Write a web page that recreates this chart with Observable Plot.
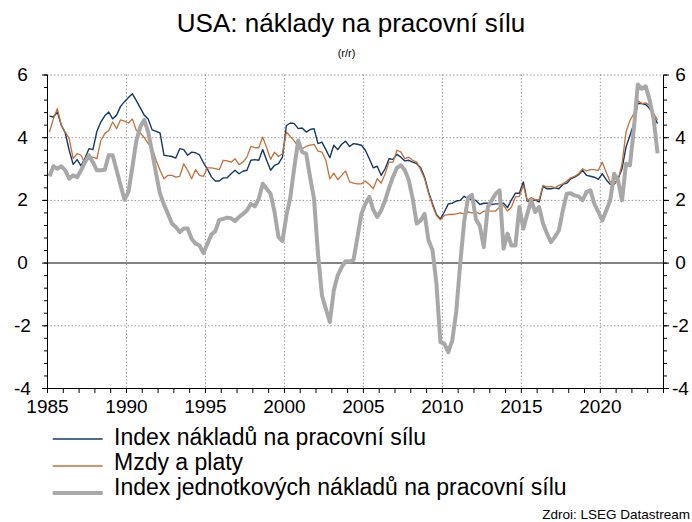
<!DOCTYPE html>
<html><head><meta charset="utf-8">
<script src="https://cdn.jsdelivr.net/npm/d3@7"></script>
<script src="https://cdn.jsdelivr.net/npm/@observablehq/plot@0.6"></script>
<style>
body{margin:0;background:#fff;font-family:"Liberation Sans",Arial,sans-serif;}
#wrap{position:relative;width:692px;height:522px;overflow:hidden;background:#fff;color:#000}
.abs{position:absolute;white-space:nowrap}
</style></head><body><div id="wrap"></div>
<script>
// Quarterly data, first observation 1985 Q1
const firstYear = 1985;
const titleText = "USA: náklady na pracovní sílu";
const subtitleText = "(r/r)";
const sourceText = "Zdroi: LSEG Datastream";
const seriesNames = ["Index nákladů na pracovní sílu", "Mzdy a platy", "Index jednotkových nákladů na pracovní sílu"];
const seriesColors = ["#12386a", "#c4703a", "#a8a8a8"];
const seriesWidths = [1.4, 1.3, 4];

const eci = [4.69,4.66,4.82,4.4,4.15,3.6,3.15,3.3,3.1,3.35,3.65,3.62,4.2,4.5,4.7,4.82,4.6,4.72,5.0,5.15,5.28,5.4,5.18,4.95,4.72,4.6,4.25,4.2,4.15,3.44,3.42,3.4,3.35,3.65,3.62,3.44,3.54,3.52,3.45,3.2,3.0,2.75,2.62,2.62,2.72,2.72,
 2.85,2.96,2.85,2.93,2.96,3.28,3.3,3.28,3.62,3.28,2.96,3.12,3.17,3.38,4.39,4.47,4.45,4.29,4.31,4.18,4.26,4.29,3.81,3.86,3.62,3.36,3.76,3.62,3.79,3.89,3.72,3.81,3.79,3.76,3.6,3.33,3.04,3.09,2.8,3.01,3.33,3.31,3.47,3.38,3.26,3.28,3.22,3.17,3.04,2.74,2.27,1.89,1.55,1.41,1.63,1.89,1.91,1.98,2.0,2.13,2.06,2.02,2.0,1.87,
 1.91,1.91,1.87,1.89,1.89,1.91,1.77,2.02,2.23,2.23,2.59,1.98,1.98,2.02,1.95,2.45,2.37,2.37,2.4,2.37,2.51,2.55,2.69,2.74,2.82,2.96,2.8,2.77,2.74,2.67,2.85,2.66,2.51,2.51,2.69,3.01,3.7,4.07,4.45,5.1,5.09,5.06,4.93,4.71,4.45];
const wages = [4.18,4.6,4.93,4.39,4.18,3.97,3.33,3.49,3.44,3.17,3.38,3.38,3.33,3.91,4.13,4.23,4.5,4.29,4.57,4.53,4.47,4.6,4.23,4.15,4.0,3.81,3.68,3.28,2.96,2.69,2.8,2.8,2.74,2.77,3.17,2.96,2.69,2.98,2.8,2.77,3.04,3.04,3.01,2.98,3.28,3.26,
 3.22,3.33,3.14,3.22,3.38,3.72,3.68,3.68,4.02,3.68,3.31,3.54,3.4,3.49,4.18,4.04,3.89,3.72,3.65,3.72,3.76,3.79,3.57,3.54,3.28,2.69,2.87,2.66,2.8,2.94,2.59,2.55,2.53,2.53,2.62,2.51,2.37,2.69,2.55,2.85,3.22,3.22,3.6,3.54,3.33,3.38,3.28,3.22,2.98,2.69,2.23,1.84,1.52,1.38,1.52,1.55,1.55,1.57,1.6,1.57,1.63,1.6,1.63,1.57,
 1.66,1.66,1.66,1.66,1.79,1.84,1.66,1.79,2.11,2.13,2.48,2.0,2.09,2.02,2.02,2.48,2.43,2.45,2.4,2.48,2.53,2.62,2.72,2.77,2.85,3.01,2.94,2.98,2.98,2.96,3.22,2.9,2.59,2.53,2.64,3.17,4.18,4.55,4.77,5.19,5.09,5.11,5.03,4.77,4.57];
const ulc = [2.77,3.09,3.01,3.09,2.96,2.69,2.8,2.74,2.96,3.22,3.44,3.22,2.96,2.96,2.98,3.44,3.44,2.96,2.48,2.02,2.27,3.06,3.91,4.34,4.57,4.18,3.54,2.85,2.21,1.87,1.57,1.26,1.15,0.99,1.1,1.1,0.78,0.62,0.56,0.32,0.62,0.91,1.02,1.38,1.41,1.45,1.43,1.34,1.47,1.57,1.68,1.89,
 1.81,2.05,2.53,2.37,2.21,1.63,0.83,0.7,1.52,2.1,3.06,3.91,3.54,3.49,2.74,2.05,0.3,-1.03,-1.46,-1.88,-0.87,-0.39,-0.13,0.06,0.05,0.1,0.83,1.57,1.89,2.11,1.7,1.47,1.68,2.0,2.4,2.75,3.04,3.12,2.96,2.64,2.05,1.26,1.36,1.57,0.72,0.42,-0.66,-2.52,-2.57,-2.84,-2.47,-1.56,-0.05,1.3,2.08,2.18,1.4,1.18,
 0.51,1.79,2.0,2.21,2.32,0.46,0.94,0.56,0.56,1.79,1.1,1.57,2.0,1.63,1.79,1.26,0.94,0.67,0.83,1.04,1.68,2.21,2.23,2.16,2.13,2.0,2.27,2.32,1.89,1.63,1.36,1.68,2.0,2.85,2.64,2.0,3.17,3.12,4.29,5.7,5.56,5.64,5.2,4.6,3.5];

const xDomain = [1985, 2024];
const yDomain = [-4, 6];
const labelYears = [1985, 1990, 1995, 2000, 2005, 2010, 2015, 2020];
const gridYears = [1990, 1995, 2000, 2005, 2010, 2015, 2020];
const yearTicks = d3.range(1985, 2025);
const yMajor = [-4, -2, 0, 2, 4, 6];
const yGrid = [-2, 2, 4, 6];
const yMinor = d3.range(0, 26).map(i => +(-4 + i * 0.4).toFixed(1));

const seriesValues = [eci, wages, ulc];
// mid-quarter position in decimal years
const toTime = i => firstYear + 0.125 + 0.25 * i;
const rows = seriesValues.map((vals, s) => vals.map((v, i) => ({t: toTime(i), v, s})));

const wrap = document.getElementById("wrap");
function addDiv(text, css) {
  const d = document.createElement("div");
  d.className = "abs";
  d.textContent = text;
  Object.assign(d.style, css);
  wrap.appendChild(d);
  return d;
}
addDiv(titleText, {left: "0px", width: "702px", textAlign: "center", top: "9.5px", fontSize: "26px", lineHeight: "26px"});
addDiv(subtitleText, {left: "0px", width: "693px", textAlign: "center", top: "48px", fontSize: "11px", lineHeight: "11px"});

const grid = {stroke: "#9a9a9a", strokeOpacity: 1, strokeWidth: 1, strokeDasharray: "1.5,2"};
const chart = Plot.plot({
  width: 692,
  height: 358,
  marginLeft: 47,
  marginRight: 29,
  marginTop: 12.5,
  marginBottom: 32,
  x: {domain: xDomain, label: null},
  y: {domain: yDomain, label: null},
  style: {fontFamily: "'Liberation Sans', Arial, sans-serif", fontSize: "19px", color: "#000", background: "transparent", overflow: "visible"},
  marks: [
    Plot.gridX(gridYears, grid),
    Plot.gridY(yGrid, grid),
    Plot.ruleY([0], {stroke: "#5a5a5a", strokeWidth: 1.5}),
    ...rows.map((r, s) => Plot.line(r, {x: "t", y: "v", stroke: seriesColors[s], strokeWidth: seriesWidths[s], strokeLinejoin: "round", strokeLinecap: "butt"})),
    Plot.ruleY([yDomain[0]], {stroke: "#000", strokeWidth: 1}),
    Plot.ruleX([xDomain[0], xDomain[1]], {y1: yDomain[0], y2: yDomain[1], stroke: "#000", strokeWidth: 1}),
    Plot.axisX(yearTicks, {anchor: "bottom", label: null, tickSize: 5, tickFormat: () => "", stroke: "#000"}),
    Plot.axisX(labelYears, {anchor: "bottom", label: null, tickSize: 0, tickPadding: 11, tickFormat: d => String(d), fill: "#000"}),
    Plot.axisY(yMinor, {anchor: "left", label: null, tickSize: 3, tickFormat: () => "", stroke: "#000"}),
    Plot.axisY(yMajor, {anchor: "left", label: null, tickSize: 5, tickPadding: 20, textAnchor: "middle", tickFormat: d => String(d), fill: "#000", stroke: "#000"}),
    Plot.axisY(yMinor, {anchor: "right", label: null, tickSize: 3, tickFormat: () => "", stroke: "#000"}),
    Plot.axisY(yMajor, {anchor: "right", label: null, tickSize: 5, tickPadding: 12, textAnchor: "middle", tickFormat: d => String(d), fill: "#000", stroke: "#000"})
  ]
});
const holder = document.createElement("div");
holder.className = "abs";
holder.style.left = "0px";
holder.style.top = "62px";
holder.appendChild(chart);
wrap.appendChild(holder);

// legend
const legendTops = [425.6, 450.6, 476.3];
const swatchY = [439.3, 466, 493];
seriesNames.forEach((name, i) => {
  const ns = "http://www.w3.org/2000/svg";
  const sv = document.createElementNS(ns, "svg");
  sv.setAttribute("width", "52");
  sv.setAttribute("height", "10");
  sv.style.position = "absolute";
  sv.style.left = "52px";
  sv.style.top = (swatchY[i] - 5) + "px";
  const ln = document.createElementNS(ns, "line");
  ln.setAttribute("x1", "0.7"); ln.setAttribute("x2", "50.7");
  ln.setAttribute("y1", "5"); ln.setAttribute("y2", "5");
  ln.setAttribute("stroke", seriesColors[i]);
  ln.setAttribute("stroke-width", seriesWidths[i]);
  sv.appendChild(ln);
  wrap.appendChild(sv);
  addDiv(name, {left: "114px", top: legendTops[i] + "px", fontSize: "23px", lineHeight: "23px"});
});
addDiv(sourceText, {right: "2px", top: "507.5px", fontSize: "13.5px", lineHeight: "13.5px"});
</script></body></html>
